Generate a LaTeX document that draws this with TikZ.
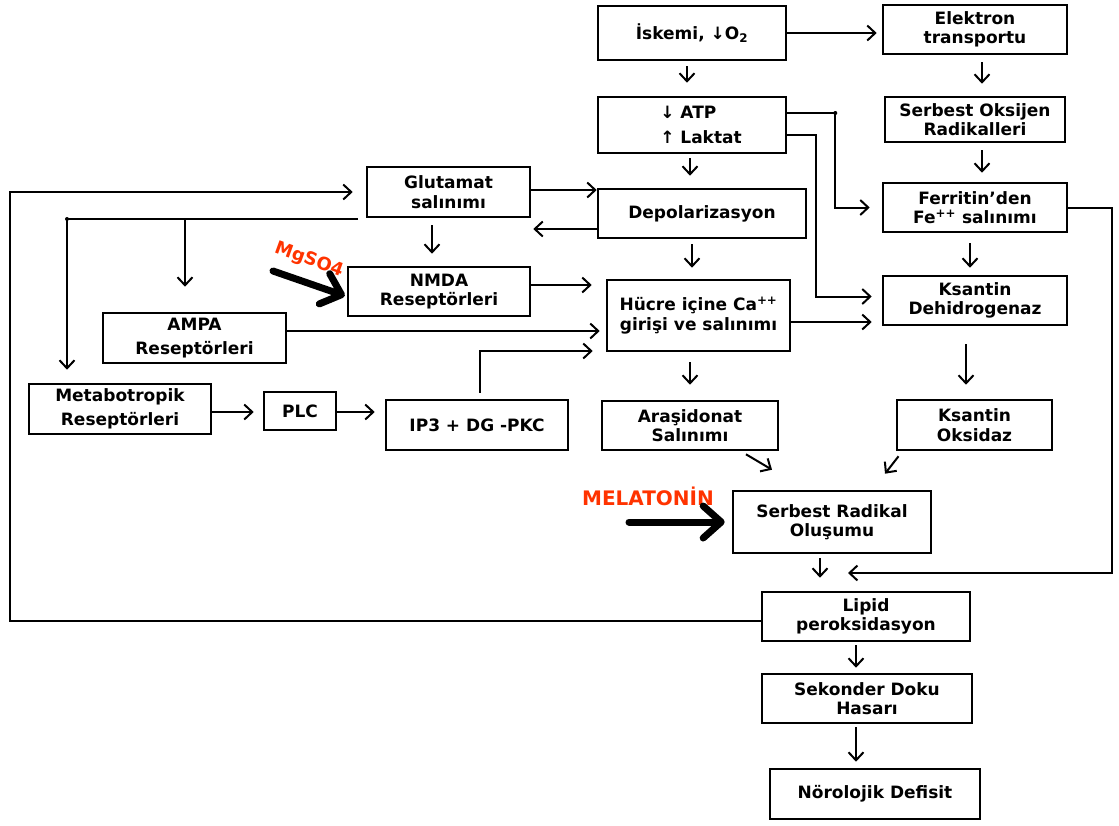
\documentclass[tikz,border=0pt]{standalone}
\usepackage{fontspec}
\setmainfont{DejaVu Sans}
\usetikzlibrary{arrows.meta}
\definecolor{mred}{RGB}{255,51,0}
\begin{document}
\begin{tikzpicture}[x=1pt,y=-1pt,
 box/.style={draw, line width=2.6pt, inner sep=0pt, align=center, font=\bfseries\fontsize{17}{19.5}\selectfont},
 wide/.style={font=\bfseries\fontsize{17}{24.5}\selectfont},
 arr/.style={line width=2pt, -{Straight Barb[length=8pt,width=15pt]}},
 ln/.style={line width=2pt},
 big/.style={line width=7pt, line cap=round, -{Straight Barb[length=18pt,width=32pt,round]}},
 lab/.style={text=mred, inner sep=0pt, font=\bfseries\fontsize{20}{22}\selectfont}]
\useasboundingbox (0,0) rectangle (1119,825);
% nodes
\node[box, minimum width=188, minimum height=54] (isk) at (692,33) {İskemi, ↓O\textsubscript{2}};
\node[box, minimum width=184, minimum height=49] (elek) at (975,29.5) {Elektron\\transportu};
\node[box, wide, align=left, minimum width=188, minimum height=56] (atp) at (692,125) {\hspace*{18pt}↓ ATP\\\hspace*{18pt}↑ Laktat};
\node[box, minimum width=180, minimum height=45] (soks) at (975,119.5) {Serbest Oksijen\\Radikalleri};
\node[box, minimum width=163, minimum height=50] (glu) at (448.5,192) {Glutamat\\salınımı};
\node[box, minimum width=208, minimum height=49] (dep) at (702,213.5) {Depolarizasyon};
\node[box, minimum width=184, minimum height=49] (fer) at (975,207.5) {Ferritin’den\\Fe\textsuperscript{++} salınımı};
\node[box, minimum width=182, minimum height=49] (nmda) at (439,291.5) {NMDA\\Reseptörleri};
\node[box, minimum width=183, minimum height=71] (ca) at (698.5,315.5) {Hücre içine Ca\textsuperscript{++}\\girişi ve salınımı};
\node[box, minimum width=184, minimum height=49] (kdh) at (975,300.5) {Ksantin\\Dehidrogenaz};
\node[box, wide, minimum width=183, minimum height=50] (ampa) at (194.5,338) {AMPA\\Reseptörleri};
\node[box, wide, minimum width=182, minimum height=50] (meta) at (120,409) {Metabotropik\\Reseptörleri};
\node[box, minimum width=72, minimum height=38] (plc) at (300,411) {PLC};
\node[box, minimum width=182, minimum height=50] (ip3) at (477,425) {IP3 + DG -PKC};
\node[box, minimum width=176, minimum height=49] (ara) at (690,425.5) {Araşidonat\\Salınımı};
\node[box, minimum width=155, minimum height=50] (kox) at (974.5,425) {Ksantin\\Oksidaz};
\node[box, minimum width=198, minimum height=62] (srad) at (832,522) {Serbest Radikal\\Oluşumu};
\node[box, minimum width=208, minimum height=49] (lip) at (866,616.5) {Lipid\\peroksidasyon};
\node[box, minimum width=210, minimum height=49] (sek) at (867,698.5) {Sekonder Doku\\Hasarı};
\node[box, minimum width=210, minimum height=50] (nor) at (875,794) {Nörolojik Defisit};
% labels
\node[lab, rotate=-20, font=\bfseries\fontsize{18}{20}\selectfont] (mg) at (309,260) {MgSO4};
\node[lab] (mel) at (648,496) {MELATONİN};
\coordinate (mgs) at (273,271);
\coordinate (mls) at (629,522);
\draw[big, shorten >=2pt] (mgs) -- ([yshift=-5pt]nmda.west);
\draw[big, shorten >=7pt] (mls) -- (srad.west);
% connectors
\draw[arr, shorten >=5pt] (isk.east) -- (isk.east -| elek.west);
\draw[arr, shorten <=5pt, shorten >=13pt] ([xshift=-5pt]isk.south) -- ([xshift=-5pt]atp.north);
\draw[arr, shorten <=7pt, shorten >=12pt] ([xshift=7pt]elek.south) -- ([xshift=7pt]soks.north);
\draw[arr, shorten <=7pt, shorten >=9pt] ([xshift=7pt]soks.south) -- ([xshift=7pt]fer.north);
\draw[arr, shorten <=4pt, shorten >=12pt] ([xshift=-2pt]atp.south) -- ([xshift=-2pt]atp.south |- dep.north);
\draw[arr, shorten >=12pt] ([yshift=12pt]atp.east) -- ++(48,0) coordinate (j1) |- (fer.west);
\fill (j1) circle (2pt);
\draw[arr, shorten >=10pt] ([yshift=-10pt]atp.east) -- ++(29,0) |- ([yshift=4pt]kdh.west);
\coordinate (ferend) at (848,573);
\draw[arr] (fer.east) -- ++(44,0) |- (ferend);
\draw[arr, shorten <=10pt, shorten >=7pt] ([xshift=-5pt]fer.south) -- ([xshift=-5pt]kdh.north);
\draw[arr, shorten <=18pt, shorten >=14pt] ([xshift=-9pt]kdh.south) -- ([xshift=-9pt]kdh.south |- kox.north);
\draw[arr] ([xshift=-76pt,yshift=-5pt]kox.south) -- ([xshift=53pt,yshift=16pt]srad.north);
\draw[arr] ([xshift=56pt,yshift=-3pt]ara.south) -- ([xshift=-60pt,yshift=20pt]srad.north);
\draw[arr, shorten <=4pt, shorten >=13pt] ([xshift=-12pt]srad.south) -- ([xshift=-12pt]srad.south |- lip.north);
\draw[arr, shorten <=3pt, shorten >=5pt] ([xshift=-10pt]lip.south) -- ([xshift=-10pt]lip.south |- sek.north);
\draw[arr, shorten <=3pt, shorten >=6pt] ([xshift=-11pt]sek.south) -- ([xshift=-11pt]sek.south |- nor.north);
\draw[arr] ([yshift=2pt]glu.east) -- ([yshift=2pt]glu.east -| dep.west);
\draw[arr, shorten >=2pt] ([yshift=-15.5pt]dep.west) -- ([yshift=-15.5pt]dep.west -| glu.east);
\draw[arr, shorten <=7pt, shorten >=12pt] ([xshift=-16.5pt]glu.south) -- ([xshift=-16.5pt]glu.south |- nmda.north);
\draw[arr, shorten <=5pt, shorten >=11pt] ([xshift=-10pt]dep.south) -- ([xshift=-10pt]dep.south |- ca.north);
\draw[arr, shorten >=14pt] ([yshift=6.5pt]nmda.east) -- ([yshift=6.5pt]nmda.east -| ca.west);
\draw[arr, shorten >=6pt] ([yshift=7pt]ampa.east) -- ([yshift=7pt]ampa.east -| ca.west);
\draw[arr, shorten <=6pt, shorten >=13pt] ([xshift=3pt]ip3.north) |- ([yshift=-35.5pt]ca.west);
\draw[arr, shorten >=10pt] ([yshift=-6.5pt]ca.east) -- ([yshift=-6.5pt]ca.east -| kdh.west);
\draw[arr, shorten <=10pt, shorten >=15pt] ([xshift=-8.5pt]ca.south) -- ([xshift=-8.5pt]ca.south |- ara.north);
\draw[arr, shorten >=9pt] ([yshift=-3pt]meta.east) -- ([yshift=-3pt]meta.east -| plc.west);
\draw[arr, shorten >=10pt] ([yshift=-1pt]plc.east) -- ([yshift=-1pt]plc.east -| ip3.west);
\coordinate (lc) at (10,192);
\draw[arr, shorten >=13pt] ([yshift=-4.5pt]lip.west) -| (lc) -- (glu.west);
\coordinate (gs) at (358,219);
\coordinate (gl) at (67,219);
\draw[ln] (gs) -- (gl);
\fill (gl) circle (2pt);
\draw[arr, shorten >=13pt] (gl) -- (gl |- meta.north);
\draw[arr, shorten >=25pt] ([xshift=-9.5pt]ampa.north |- gs) -- ([xshift=-9.5pt]ampa.north);
\end{tikzpicture}
\end{document}
